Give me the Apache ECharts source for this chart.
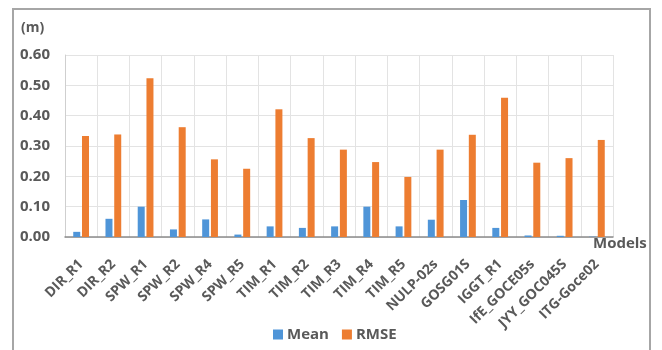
<!DOCTYPE html>
<html>
<head>
<meta charset="utf-8">
<script src="https://cdn.jsdelivr.net/npm/echarts@6/dist/echarts.min.js"></script>
<style>html,body{margin:0;padding:0;background:#fff;}#c{width:662px;height:350px;}</style>
</head>
<body>
<div id="c"></div>
<script>
const categories = ['DIR_R1','DIR_R2','SPW_R1','SPW_R2','SPW_R4','SPW_R5','TIM_R1','TIM_R2','TIM_R3','TIM_R4','TIM_R5','NULP-02s','GOSG01S','IGGT_R1','IfE_GOCE05s','JYY_GOC045S','ITG-Goce02'];
const meanValues = [0.017,0.060,0.100,0.025,0.058,0.008,0.035,0.030,0.035,0.100,0.035,0.057,0.122,0.030,0.005,0.004,0.001];
const rmseValues = [0.333,0.338,0.523,0.362,0.256,0.225,0.421,0.326,0.288,0.247,0.198,0.288,0.337,0.459,0.245,0.260,0.320];
const yTicks = [0, 0.1, 0.2, 0.3, 0.4, 0.5, 0.6];

const txt = '#595959';
const font = 'Open Sans';
const chart = echarts.init(document.getElementById('c'));
chart.setOption({
  animation: false,
  grid: { left: 65, right: 49, top: 55, bottom: 113, containLabel: false },
  legend: {
    data: ['Mean', 'RMSE'],
    left: 268, top: 322,
    itemWidth: 10, itemHeight: 10, itemGap: 13,
    icon: 'rect',
    textStyle: { color: txt, fontSize: 15, fontFamily: font, fontWeight: 'bold', padding: [0, 0, 0, -1] }
  },
  graphic: [
    { type: 'rect', shape: { x: 13, y: 9, width: 637, height: 360 }, style: { fill: 'none', stroke: '#a6a6a6', lineWidth: 2 }, silent: true },
    { type: 'text', left: 21, top: 21, style: { text: '(m)', fill: txt, font: 'bold 14px "Open Sans"' } },
    { type: 'text', left: 593, top: 236, style: { text: 'Models', fill: txt, font: 'bold 15px "Open Sans"' } }
  ],
  xAxis: {
    type: 'category',
    data: categories,
    axisLine: { show: true, lineStyle: { color: '#8c8c8c', width: 1.5 } },
    axisTick: { show: false },
    splitLine: { show: true, lineStyle: { color: '#e3e3e3', width: 1 } },
    axisLabel: { rotate: 45, interval: 0, margin: 25, color: txt, fontSize: 14, fontFamily: font, fontWeight: 'bold' }
  },
  yAxis: {
    type: 'value',
    min: yTicks[0], max: yTicks[yTicks.length - 1], interval: 0.1,
    axisLine: { show: true, lineStyle: { color: '#cfcfcf' } },
    axisTick: { show: false },
    splitLine: { lineStyle: { color: '#e3e3e3' } },
    axisLabel: { margin: 15, color: txt, fontSize: 15, fontFamily: font, fontWeight: 'bold', formatter: v => v.toFixed(2) }
  },
  series: [
    { name: 'Mean', type: 'bar', data: meanValues, barWidth: 7, barGap: '25%', itemStyle: { color: '#4f95d8' } },
    { name: 'RMSE', type: 'bar', data: rmseValues, barWidth: 7, itemStyle: { color: '#ed7d31' } }
  ]
});
</script>
</body>
</html>
